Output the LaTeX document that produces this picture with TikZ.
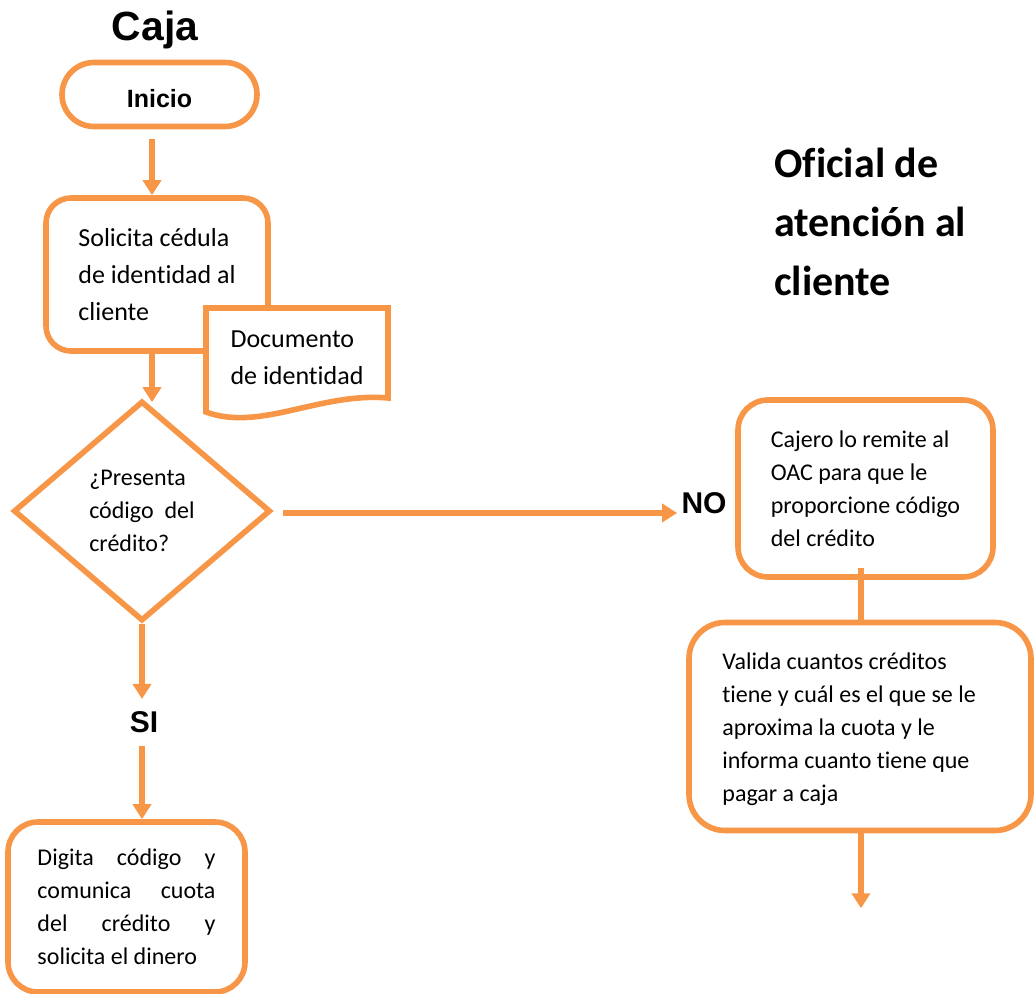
\documentclass[tikz,border=0pt]{standalone}
\usepackage{fontspec}
\setmainfont{Carlito}[Ligatures=NoCommon]
\newfontfamily\headfont{Liberation Sans}
\usetikzlibrary{arrows.meta,shapes.geometric,calc}
\definecolor{orng}{HTML}{F79646}
\begin{document}
\begin{tikzpicture}[x=0.5pt,y=-0.5pt,
  outline/.style={draw=orng, line width=2.8pt},
  procbox/.style={outline, fill=white, inner sep=0pt},
  arr/.style={outline, -{Triangle[width=9pt,length=7.5pt]}},
  bodytxt/.style={font=\fontsize{12}{16.5}\selectfont, align=left, inner sep=0pt},
  bigtxt/.style={font=\fontsize{13}{18.5}\selectfont, align=left, inner sep=0pt},
  headtxt/.style={font=\headfont\bfseries\fontsize{15}{18}\selectfont, inner sep=0pt},
]
\useasboundingbox (0,0) rectangle (1034,994);

% lane titles
\node[inner sep=0pt, font=\headfont\bfseries\fontsize{20.4}{24}\selectfont] (caja) at (155,30) {Caja};
\node[inner sep=0pt, anchor=west, align=left, font=\bfseries\fontsize{21}{29.5}\selectfont] (oac) at (774,222) {Oficial de\\atención al\\cliente};

% cashier lane
\node[procbox, rounded corners=16pt, minimum width=97.5pt, minimum height=32pt,
      text height=13pt, text depth=0pt,
      font=\headfont\bfseries\fontsize{12.5}{15}\selectfont] (inicio) at (159.5,94.5) {Inicio};
\node[procbox, rounded corners=12.5pt, minimum width=111pt, minimum height=76.5pt, bigtxt]
      (solicita) at (157,274.5) {Solicita cédula\\de identidad al\\cliente};

% document symbol
\draw[outline, fill=white] (206,308) -- (388,308) -- (388,398)
      .. controls (320,392) and (260,432) .. (206,412) -- cycle;
\node[bigtxt] (doc) at (297,358) {Documento\\de identidad};

% decision
\node[procbox, diamond, minimum width=128.5pt, minimum height=110pt] (cond) at (142,511) {};
\node[bodytxt] (condtxt) at (cond.center) {¿Presenta\\código\ \ del\\crédito?};

\node[headtxt] (no) at (704,503) {NO};
\node[headtxt] (si) at (144,722) {SI};

\node[procbox, rounded corners=15pt, minimum width=118.5pt, minimum height=85pt, bodytxt]
      (digita) at (126.5,907)
      {\makebox[89pt][s]{Digita código y}\\\makebox[89pt][s]{comunica cuota}\\\makebox[89pt][s]{del crédito y}\\solicita el dinero};

% customer service lane
\node[procbox, rounded corners=15pt, minimum width=127.5pt, minimum height=88.5pt, bodytxt]
      (cajero) at (865.5,488.5) {Cajero lo remite al\\OAC para que le\\proporcione código\\del crédito};
\node[procbox, rounded corners=18pt, minimum width=171pt, minimum height=104pt] (valida) at (860,726.5) {};
\node[bodytxt, anchor=west] (validatxt) at (722,729)
      {Valida cuantos créditos\\tiene y cuál es el que se le\\aproxima la cuota y le\\informa cuanto tiene que\\pagar a caja};

% connectors
\coordinate (a1) at ($(inicio.south)+(-7.5,10)$);
\draw[arr] (a1) -- (a1 |- solicita.north);
\coordinate (a2) at ($(solicita.south)+(-5,0)$);
\draw[arr] (a2) -- ($(a2 |- cond.north)+(0,4)$);
\draw[arr] ($(cond.east)+(10,2)$) -- ($(cond.east -| no.west)+(-4,2)$);
\draw[arr] (cond.south) -- ($(cond.south |- si.north)+(0,-12)$);
\draw[arr] ($(cond.south |- si.south)+(0,13)$) -- (cond.south |- digita.north);
\coordinate (c1) at ($(cajero.south)+(-4.5,-12)$);
\draw[outline] (c1) -- (c1 |- valida.north);
\coordinate (vend) at ($(valida.south -| c1)+(0,75)$);
\draw[arr] (valida.south -| c1) -- (vend);
\end{tikzpicture}
\end{document}
